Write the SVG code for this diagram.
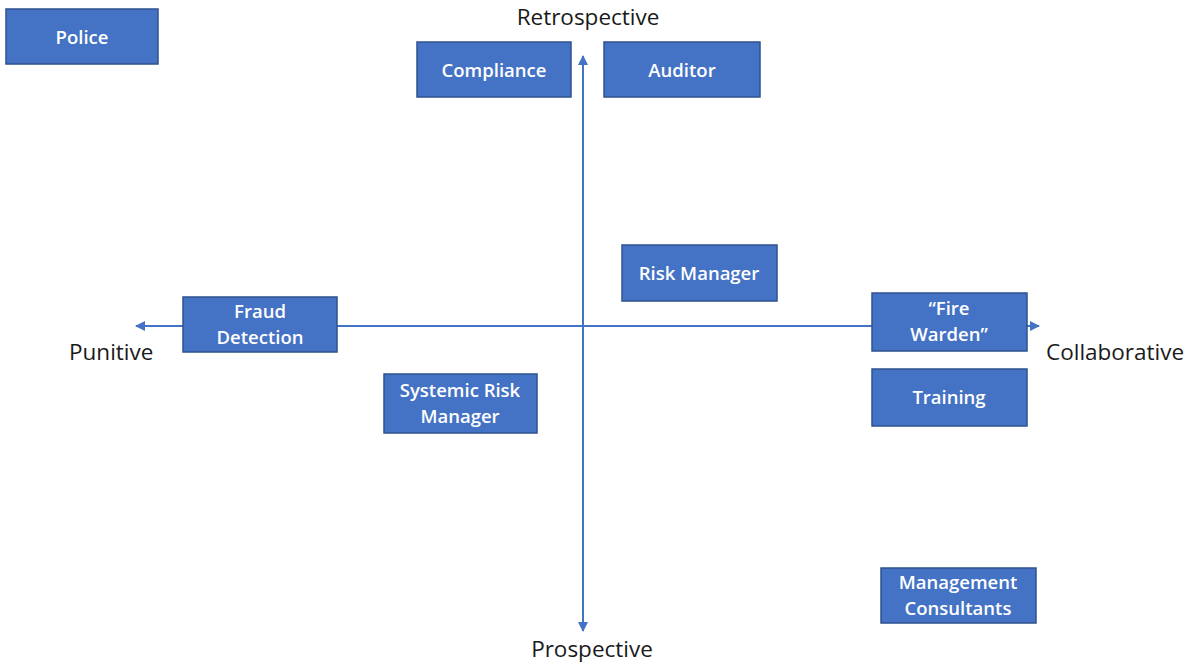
<svg xmlns="http://www.w3.org/2000/svg" width="1189" height="664" viewBox="0 0 1189 664">
<style>
.box{fill:#4472C4;stroke:#2F528F;stroke-width:1.5}
.bt{fill:#fff;font-family:"Open Sans","Noto Sans",sans-serif;font-size:18.5px;font-weight:600;text-anchor:middle}
.ax{fill:#1a1a1a;font-family:"Open Sans","Noto Sans",sans-serif;font-size:22.5px}
.axis{stroke:#4472C4;stroke-width:2;fill:none}
</style>
<defs>
<marker id="ah" viewBox="0 0 10 10" refX="9" refY="5" markerWidth="5" markerHeight="5" orient="auto-start-reverse">
<path d="M0,0 L10,5 L0,10 z" fill="#4472C4"/>
</marker>
</defs>
<rect width="1189" height="664" fill="#fff"/>
<g id="connectors">
<line class="axis" x1="583" y1="56" x2="583" y2="631" marker-start="url(#ah)" marker-end="url(#ah)"/>
<line class="axis" x1="136" y1="326" x2="1039" y2="326" marker-start="url(#ah)" marker-end="url(#ah)"/>
</g>
<g id="label-retrospective"><text class="ax" x="588" y="25" text-anchor="middle">Retrospective</text></g>
<g id="label-prospective"><text class="ax" x="592" y="657" text-anchor="middle">Prospective</text></g>
<g id="label-punitive"><text class="ax" x="69" y="360">Punitive</text></g>
<g id="label-collaborative"><text class="ax" x="1046" y="360">Collaborative</text></g>
<g id="police"><rect class="box" x="6" y="9" width="152" height="55"/><text class="bt" x="82" y="44">Police</text></g>
<g id="compliance"><rect class="box" x="417" y="42" width="154" height="55"/><text class="bt" x="494" y="77">Compliance</text></g>
<g id="auditor"><rect class="box" x="604" y="42" width="156" height="55"/><text class="bt" x="682" y="77">Auditor</text></g>
<g id="risk-manager"><rect class="box" x="622" y="245" width="155" height="56"/><text class="bt" x="699" y="280">Risk Manager</text></g>
<g id="fraud-detection"><rect class="box" x="183" y="297" width="154" height="55"/><text class="bt" x="260" y="318">Fraud</text><text class="bt" x="260" y="344">Detection</text></g>
<g id="fire-warden"><rect class="box" x="872" y="293" width="155" height="58"/><text class="bt" x="949" y="315">“Fire</text><text class="bt" x="949" y="341">Warden”</text></g>
<g id="training"><rect class="box" x="872" y="369" width="155" height="57"/><text class="bt" x="949" y="404">Training</text></g>
<g id="systemic-risk-manager"><rect class="box" x="384" y="374" width="153" height="59"/><text class="bt" x="460" y="397">Systemic Risk</text><text class="bt" x="460" y="423">Manager</text></g>
<g id="management-consultants"><rect class="box" x="881" y="568" width="155" height="55"/><text class="bt" x="958" y="589">Management</text><text class="bt" x="958" y="615">Consultants</text></g>
</svg>
